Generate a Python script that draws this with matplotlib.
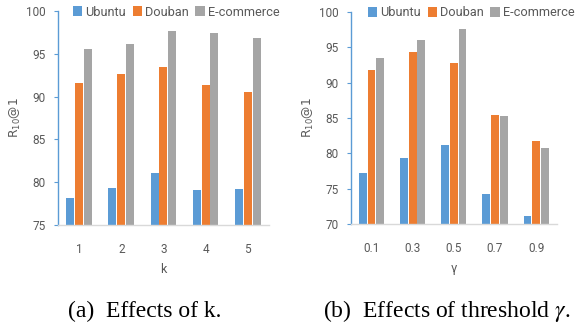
import matplotlib
matplotlib.use("Agg")
import matplotlib.pyplot as plt
import numpy as np

# ── Data ──────────────────────────────────────────────────────────────────────
series = ["Ubuntu", "Douban", "E-commerce"]

k_labels = ["1", "2", "3", "4", "5"]
k_ubuntu = [78.1, 79.3, 81.1, 79.1, 79.2]
k_douban = [91.6, 92.6, 93.4, 91.3, 90.5]
k_ecom   = [95.6, 96.1, 97.7, 97.4, 96.8]

g_labels = ["0.1", "0.3", "0.5", "0.7", "0.9"]
g_ubuntu = [77.2, 79.4, 81.2, 74.2, 71.2]
g_douban = [91.8, 94.4, 92.8, 85.4, 81.7]
g_ecom   = [93.5, 96.0, 97.6, 85.3, 80.7]

COLORS = ["#5B9BD5", "#ED7D31", "#A5A5A5"]
TEXT_GREY = "#595959"
SANS = ["Roboto", "DejaVu Sans"]


def draw_panel(fig, rect, labels, values, ylim, yticks, xlabel, legend_box):
    ax = fig.add_axes(rect)
    x = np.arange(len(labels))
    width, step = 0.19, 0.21
    handles = []
    for i, (vals, color) in enumerate(zip(values, COLORS)):
        h = ax.bar(x + (i - 1) * step, vals, width=width, color=color, zorder=2)
        handles.append(h)
    ax.set_xlim(-0.5, len(labels) - 0.5)
    ax.set_ylim(*ylim)
    ax.set_yticks(yticks)
    ax.set_xticks(x)
    ax.set_xticklabels(labels, family=SANS, fontsize=8.5, color=TEXT_GREY)
    ax.set_yticklabels([str(t) for t in yticks], family=SANS,
                       fontsize=8.5, color=TEXT_GREY)
    ax.tick_params(axis="x", length=0, pad=13)
    ax.tick_params(axis="y", length=3, width=0.8, color="#5B9BD5", pad=6)
    for side in ["top", "right"]:
        ax.spines[side].set_visible(False)
    ax.spines["left"].set_color("#5B9BD5")
    ax.spines["left"].set_linewidth(1.0)
    ax.spines["bottom"].set_color("#D9D9D9")
    ax.spines["bottom"].set_linewidth(1.0)
    ax.set_xlabel(xlabel, family=SANS, fontsize=9, color=TEXT_GREY,
                  labelpad=5)
    ax.set_ylabel(r"R$_{10}$@1", fontsize=8.8, color=TEXT_GREY, labelpad=2)
    fig.legend(handles, series, loc="center", bbox_to_anchor=legend_box,
               ncol=3, frameon=False, handlelength=0.75, handleheight=0.75,
               handletextpad=0.2, columnspacing=0.55,
               prop={"family": SANS, "size": 9.2},
               labelcolor=TEXT_GREY)
    return ax


fig = plt.figure(figsize=(5.77, 3.29), dpi=100)

draw_panel(fig, [0.1005, 0.316, 0.3655, 0.6506], k_labels,
           [k_ubuntu, k_douban, k_ecom], (75, 100), [75, 80, 85, 90, 95, 100],
           "k", (176 / 577, 1 - 12 / 329))
draw_panel(fig, [0.608, 0.319, 0.357, 0.6445], g_labels,
           [g_ubuntu, g_douban, g_ecom], (70, 100),
           [70, 75, 80, 85, 90, 95, 100],
           "γ", (471 / 577, 1 - 13 / 329))

fig.text(145 / 577, 1 - 317 / 329, "(a)  Effects of k.",
         family="Liberation Serif", fontsize=17, ha="center", va="baseline")
fig.text(447 / 577, 1 - 317 / 329, r"(b)  Effects of threshold $\gamma$.",
         family="Liberation Serif", math_fontfamily="stix", fontsize=17,
         ha="center", va="baseline")

fig.savefig("out.png", dpi=100)
